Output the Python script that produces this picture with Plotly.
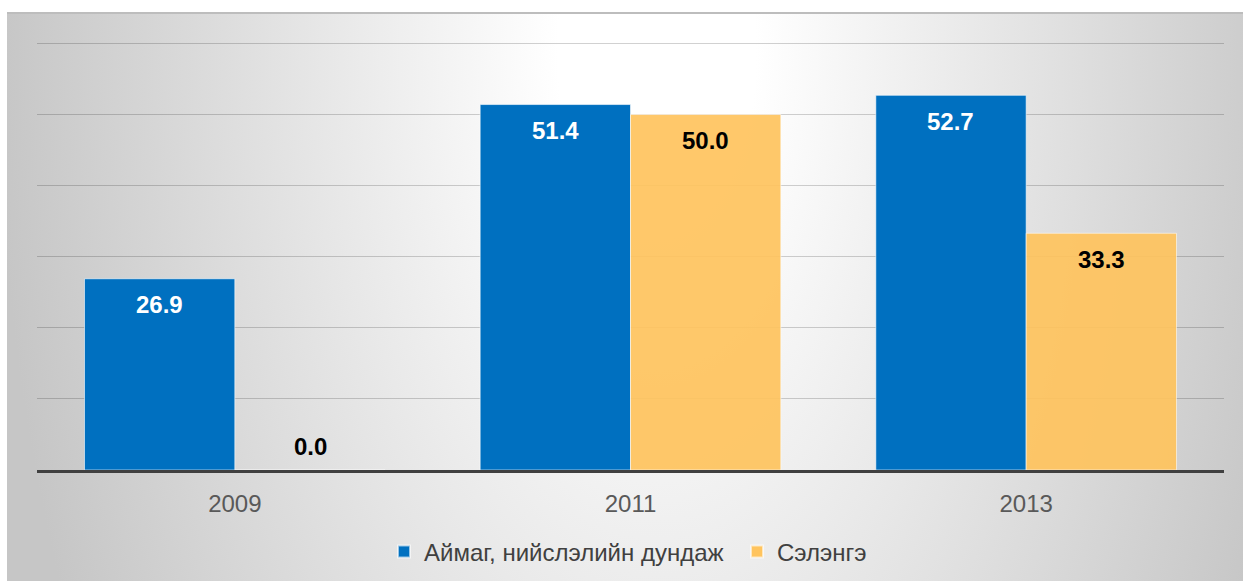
import base64
import plotly.graph_objects as go

years = ["2009", "2011", "2013"]
series_names = ["Аймаг, нийслэлийн дундаж", "Сэлэнгэ"]
avg_values = [26.9, 51.4, 52.7]
selenge_values = [0.0, 50.0, 33.3]

BLUE = "#0070C0"
ORANGE = "#FFC45E"
FONT = "Liberation Sans, Arial, sans-serif"

W, H = 1243, 581
L, R, T, B = 37, 19, 42, 111
pw, ph = W - L - R, H - T - B

# Radial grey background panel (SVG data URI)
panel_w, panel_h = 1236, 569
svg = f'''<svg xmlns="http://www.w3.org/2000/svg" width="{panel_w}" height="{panel_h}" viewBox="0 0 {panel_w} {panel_h}" preserveAspectRatio="none">
<defs><radialGradient id="g" gradientUnits="userSpaceOnUse" cx="0" cy="0" r="1" gradientTransform="translate(650 40) scale(660 1250)">
<stop offset="0" stop-color="#ffffff"/><stop offset="0.15" stop-color="#ffffff"/><stop offset="1" stop-color="#c6c6c6"/></radialGradient></defs>
<rect x="0" y="0" width="{panel_w}" height="{panel_h}" fill="url(#g)"/>
<rect x="0" y="0" width="{panel_w}" height="2" fill="#bdbdbd"/>
</svg>'''
src = "data:image/svg+xml;base64," + base64.b64encode(svg.encode()).decode()

px0, py0 = 7, 12
img_x = (px0 - L) / pw
img_y = (H - B - py0) / ph
img_sx = panel_w / pw
img_sy = panel_h / ph


def px_to_paper_x(px):
    return (px - L) / pw


def px_to_paper_y(py):
    return (H - B - py) / ph


fig = go.Figure()
fig.add_trace(go.Bar(x=years, y=avg_values, name=series_names[0], legend="legend",
                     marker=dict(color=BLUE, line=dict(color="rgba(255,255,255,0.6)", width=1))))
fig.add_trace(go.Bar(x=years, y=selenge_values, name=series_names[1], legend="legend2",
                     marker=dict(color=ORANGE, opacity=0.92, line=dict(color="rgba(255,255,255,0.6)", width=1))))

annotations = []
for i, (a, s) in enumerate(zip(avg_values, selenge_values)):
    for val, off, col in ((a, -0.19, "white"), (s, 0.19, "black")):
        annotations.append(dict(
            x=i + off, y=val, xref="x", yref="y", text=f"{val:.1f}",
            showarrow=False, yanchor="middle",
            yshift=-26 if val > 0 else 24,
            font=dict(family=FONT, size=24, color=col, weight="bold"),
        ))

legend_common = dict(orientation="h", xanchor="left", y=px_to_paper_y(552), yanchor="middle",
                     font=dict(family=FONT, size=24, color="#404040"), bgcolor="rgba(0,0,0,0)",
                     itemsizing="constant")

fig.update_layout(
    width=W, height=H,
    margin=dict(l=L, r=R, t=T, b=B, pad=0, autoexpand=False),
    paper_bgcolor="white",
    plot_bgcolor="rgba(0,0,0,0)",
    barmode="group", bargap=0.24, bargroupgap=0,
    font=dict(family=FONT),
    showlegend=True,
    legend=dict(x=px_to_paper_x(384), **legend_common),
    legend2=dict(x=px_to_paper_x(737), **legend_common),
    xaxis=dict(showgrid=False, showline=True, linecolor="#404040", linewidth=3,
               ticks="outside", ticklen=10, tickcolor="rgba(0,0,0,0)",
               tickfont=dict(size=24, color="#595959"), range=[-0.5, 2.5]),
    yaxis=dict(range=[0, 60.2], dtick=10, showgrid=True, gridcolor="rgba(0,0,0,0.18)", gridwidth=1,
               showticklabels=False, zeroline=False, showline=False),
    annotations=annotations,
    images=[dict(source=src, xref="paper", yref="paper", x=img_x, y=img_y,
                 sizex=img_sx, sizey=img_sy, xanchor="left", yanchor="top",
                 sizing="stretch", layer="below")],
)

fig.write_html("out.html", config={"displayModeBar": False},
               post_script="document.body.style.margin='0';document.body.style.overflow='hidden';")
